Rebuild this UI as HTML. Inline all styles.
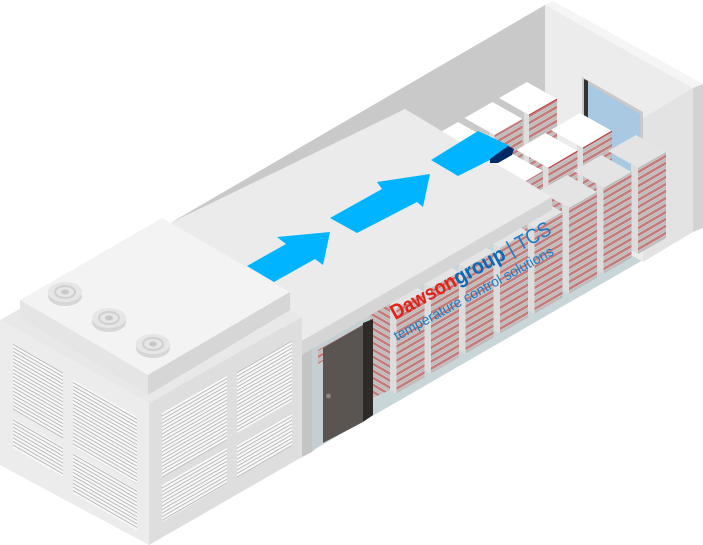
<!DOCTYPE html>
<html><head><meta charset="utf-8"><style>
html,body{margin:0;padding:0;background:#fff;}
svg{display:block}
</style></head><body>
<svg width="703" height="545" viewBox="0 0 703 545" xmlns="http://www.w3.org/2000/svg">
<defs>
<pattern id="sA" width="10" height="7" patternUnits="userSpaceOnUse" patternTransform="skewY(-30)">
<rect width="10" height="7" fill="#e6dede"/><rect y="0" width="10" height="3" fill="#c47a78"/><rect y="3.5" width="10" height="3" fill="#bcbcbc"/>
</pattern>
<pattern id="sB" width="10" height="7" patternUnits="userSpaceOnUse" patternTransform="skewY(30)">
<rect width="10" height="7" fill="#e6dede"/><rect y="0" width="10" height="3" fill="#c47a78"/><rect y="3.5" width="10" height="3" fill="#bcbcbc"/>
</pattern>
<pattern id="vA" width="10" height="3.6" patternUnits="userSpaceOnUse" patternTransform="skewY(-30)">
<rect width="10" height="3.6" fill="#f9f9f9"/><rect y="1.5" width="10" height="0.9" fill="#a8a8a8"/>
</pattern>
<pattern id="vB" width="10" height="3.6" patternUnits="userSpaceOnUse" patternTransform="skewY(30)">
<rect width="10" height="3.6" fill="#f9f9f9"/><rect y="1.5" width="10" height="0.9" fill="#a8a8a8"/>
</pattern>
</defs>

<polygon points="172,222 545,5 545,205 172,420" fill="#c9c9c9"/>
<polygon points="310,452 643,260 643,240 545,190 310,320" fill="#c8d5d9"/>
<polygon points="545,5 693,88 643,118 643,262 545,205" fill="#ececec"/>
<polygon points="545,5 553,1 703,84 693,88" fill="#f5f5f5"/>
<polygon points="643,118 693,88 693,232 643,262" fill="#e3e3e3"/>
<polygon points="693,88 703,84 703,228 693,232" fill="#d3d3d3"/>
<polygon points="582,77 643,112 643,200 582,165" fill="#c9c9c9"/>
<polygon points="587,83 640,114 640,200 587,170" fill="#a9c8e2"/>
<polygon points="584,79 588,81 588,118 584,116" fill="#333"/>

<g>
<polygon points="529,115 557,99 527,82 499,98" fill="#fff"/><polygon points="529,115 557,99 557,195 529,211" fill="url(#sA)"/><polygon points="524,112 529,115 529,211 524,208" fill="#dedede"/><line x1="529" y1="115" x2="557" y2="99" stroke="#b04040" stroke-width="1"/>
<polygon points="494.5,135 522.5,119 492.5,102 464.5,118" fill="#fff"/><polygon points="494.5,135 522.5,119 522.5,215 494.5,231" fill="url(#sA)"/><polygon points="489.5,132 494.5,135 494.5,231 489.5,228" fill="#dedede"/>
<polygon points="460,155 488,139 458,122 430,138" fill="#fff"/><polygon points="460,155 488,139 488,235 460,251" fill="url(#sA)"/>
</g>
<g>
<polygon points="583,148 612,131 580,113 551,130" fill="#fff"/><polygon points="583,148 612,131 612,227 583,244" fill="url(#sA)"/><polygon points="577,145 583,148 583,244 577,241" fill="#dedede"/><line x1="583" y1="148" x2="612" y2="131" stroke="#b04040"/>
<polygon points="548.5,168 577.5,151 545.5,133 516.5,150" fill="#fff"/><polygon points="548.5,168 577.5,151 577.5,247 548.5,264" fill="url(#sA)"/><polygon points="542.5,165 548.5,168 548.5,264 542.5,261" fill="#dedede"/><line x1="548.5" y1="168" x2="577.5" y2="151" stroke="#b04040"/>
<polygon points="514,188 543,171 511,153 482,170" fill="#fff"/><polygon points="514,188 543,171 543,267 514,284" fill="url(#sA)"/>
</g>
<g>
<polygon points="638,168 666,152 636,135 608,151" fill="#e4e4e4"/><polygon points="638,168 666,152 666,238 638,254" fill="url(#sA)"/><polygon points="631,164 638,168 638,254 631,250" fill="#dcdcdc"/>
<polygon points="603.5,188 631.5,172 601.5,155 573.5,171" fill="#e4e4e4"/><polygon points="603.5,188 631.5,172 631.5,258 603.5,274" fill="url(#sA)"/><polygon points="596.5,184 603.5,188 603.5,274 596.5,270" fill="#dcdcdc"/>
<polygon points="569,208 597,192 567,175 539,191" fill="#e4e4e4"/><polygon points="569,208 597,192 597,278 569,294" fill="url(#sA)"/><polygon points="562,204 569,208 569,294 562,290" fill="#dcdcdc"/>
<polygon points="534.5,228 562.5,212 532.5,195 504.5,211" fill="#e4e4e4"/><polygon points="534.5,228 562.5,212 562.5,298 534.5,314" fill="url(#sA)"/><polygon points="527.5,224 534.5,228 534.5,314 527.5,310" fill="#dcdcdc"/>
<polygon points="500,248 528,232 498,215 470,231" fill="#e4e4e4"/><polygon points="500,248 528,232 528,318 500,334" fill="url(#sA)"/><polygon points="493,244 500,248 500,334 493,330" fill="#dcdcdc"/>
<polygon points="465.5,268 493.5,252 463.5,235 435.5,251" fill="#e4e4e4"/><polygon points="465.5,268 493.5,252 493.5,338 465.5,354" fill="url(#sA)"/><polygon points="458.5,264 465.5,268 465.5,354 458.5,350" fill="#dcdcdc"/>
<polygon points="431,288 459,272 429,255 401,271" fill="#e4e4e4"/><polygon points="431,288 459,272 459,358 431,374" fill="url(#sA)"/><polygon points="424,284 431,288 431,374 424,370" fill="#dcdcdc"/>
<polygon points="396.5,308 424.5,292 394.5,275 366.5,291" fill="#e4e4e4"/><polygon points="396.5,308 424.5,292 424.5,378 396.5,394" fill="url(#sA)"/><polygon points="390,304 396.5,308 396.5,394 390,390" fill="#dcdcdc"/>
<polygon points="368,314 390,304 390,390 368,400" fill="url(#sB)"/>
</g>
<polygon points="312,345 370,312 370,400 312,452" fill="#c3cfd2"/>
<polygon points="318,350 368,322 368,336 318,364" fill="url(#sA)"/>
<polygon points="300,318 312,312 312,452 300,458" fill="#c4c4c4"/>
<polygon points="323,348 363,325 363,422 323,443" fill="#5a5551"/>
<polygon points="363,323 373,319 373,415 363,422" fill="#2e2a27"/>
<circle cx="328.5" cy="396" r="2.4" fill="#8a8683"/>

<polygon points="160,228 405,109 552,197 300,342" fill="#ebebeb"/>
<polygon points="300,342 552,197 552,210 300,356" fill="#d5d5d5"/>

<polygon points="247,266 286,244 277,237 330,232 323,265 315,259 274,282" fill="#00b4ff"/>
<polygon points="330,218 382,189 377,182 430,174 423,207 417,202 357,233" fill="#00b4ff"/>
<polygon points="431,160 478,131 510,146 490,160 458,176" fill="#00b4ff"/>
<polygon points="490,159 508,146 514,149 512,155 498,163 490,163" fill="#002a66"/>

<g transform="translate(395,320) rotate(-28.8)">
<text x="0" y="0" font-family="Liberation Sans, sans-serif" font-weight="bold" font-size="21" fill="#e2231a" textLength="72" lengthAdjust="spacingAndGlyphs">Dawson</text>
<text x="72" y="0" font-family="Liberation Sans, sans-serif" font-weight="bold" font-size="21" fill="#0a6ab8" textLength="56" lengthAdjust="spacingAndGlyphs">group</text>
<text x="133" y="0" font-family="Liberation Sans, sans-serif" font-size="21" fill="#1a7cc4" textLength="47" lengthAdjust="spacingAndGlyphs">| TCS</text>
</g>
<g transform="translate(397,341) rotate(-28.8)">
<text x="0" y="0" font-family="Liberation Sans, sans-serif" font-size="14" fill="#1a7cc4" textLength="180" lengthAdjust="spacingAndGlyphs">temperature control solutions</text>
</g>

<polygon points="0,320 149,403 149,545 0,465" fill="#ececec"/>
<polygon points="149,403 302,317 302,457 149,545" fill="#dedede"/>
<polygon points="0,320 153,234 302,317 149,403" fill="#e8e8e8"/>
<polygon points="20,300 162,218 290,292 148,375" fill="#f3f3f3"/>
<polygon points="20,300 148,375 148,395 20,318" fill="#e5e5e5"/>
<polygon points="148,375 290,292 290,310 148,395" fill="#d6d6d6"/>
<g>
<ellipse cx="65" cy="296" rx="17" ry="10" fill="#d6d6d6"/><ellipse cx="65" cy="292" rx="17" ry="10" fill="#e6e6e6"/><ellipse cx="65" cy="292" rx="10" ry="6" fill="none" stroke="#cfcfcf" stroke-width="2"/><ellipse cx="65" cy="292" rx="4" ry="2.5" fill="#c8c8c8"/>
<ellipse cx="109" cy="322" rx="17" ry="10" fill="#d6d6d6"/><ellipse cx="109" cy="318" rx="17" ry="10" fill="#e6e6e6"/><ellipse cx="109" cy="318" rx="10" ry="6" fill="none" stroke="#cfcfcf" stroke-width="2"/><ellipse cx="109" cy="318" rx="4" ry="2.5" fill="#c8c8c8"/>
<ellipse cx="153" cy="348" rx="17" ry="10" fill="#d6d6d6"/><ellipse cx="153" cy="344" rx="17" ry="10" fill="#e6e6e6"/><ellipse cx="153" cy="344" rx="10" ry="6" fill="none" stroke="#cfcfcf" stroke-width="2"/><ellipse cx="153" cy="344" rx="4" ry="2.5" fill="#c8c8c8"/>
</g>
<polygon points="13,343 63,372 63,439 13,410" fill="url(#vB)"/>
<polygon points="13,418 63,447 63,477 13,448" fill="url(#vB)"/>
<polygon points="73,380 137,417 137,484 73,447" fill="url(#vB)"/>
<polygon points="73,453 137,490 137,530 73,493" fill="url(#vB)"/>
<polygon points="162,413 227,375 227,440 162,478" fill="url(#vA)"/>
<polygon points="162,485 227,447 227,484 162,522" fill="url(#vA)"/>
<polygon points="237,372 292,340 292,401 237,433" fill="url(#vA)"/>
<polygon points="237,445 292,413 292,446 237,478" fill="url(#vA)"/>
</svg>
</body></html>
